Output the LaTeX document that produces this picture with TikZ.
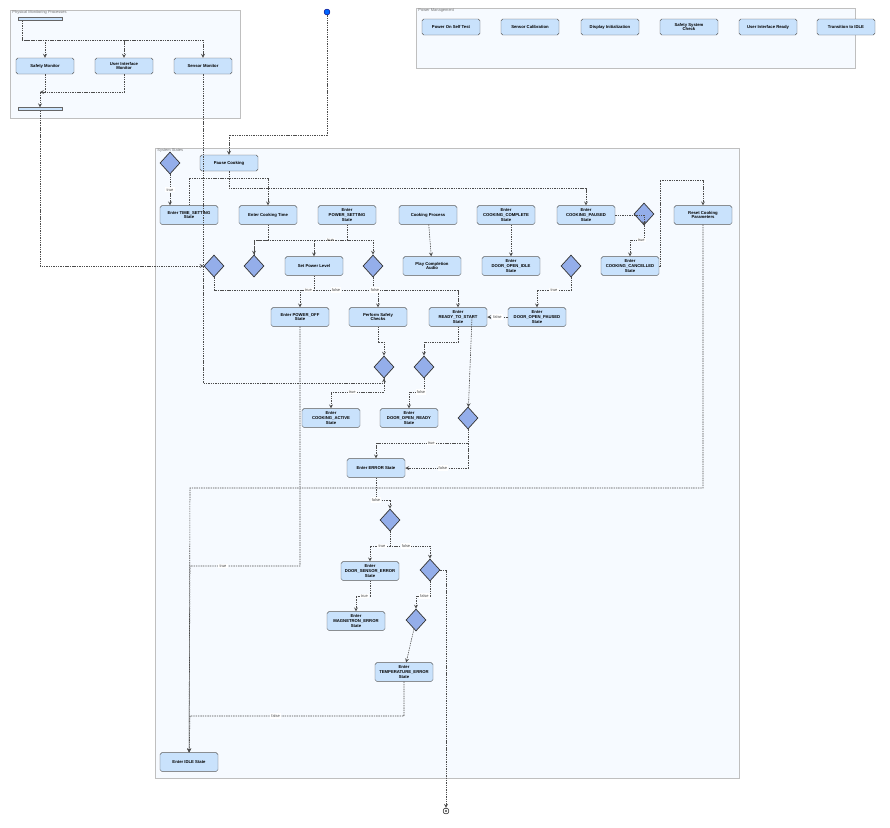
\documentclass[tikz,border=0pt]{standalone}
\usepackage{fontspec}
\setmainfont{Liberation Sans}
\usetikzlibrary{shapes}
\usetikzlibrary{positioning}
\definecolor{actfill}{HTML}{C9E2FC}
\definecolor{decfill}{HTML}{94AEEA}
\definecolor{grpfill}{HTML}{F6FAFF}
\begin{document}
\begin{tikzpicture}[
    x=0.03cm, y=-0.03cm,
    font=\fontsize{3.6}{4.2}\selectfont\bfseries
]
\tikzset{
    act/.style = {rectangle, rounded corners=1.5pt, draw=black!65, fill=actfill, align=center,
                  minimum width=1.74cm, minimum height=0.56cm, inner sep=1pt, line width=0.4pt},
    pact/.style = {act, minimum height=0.48cm},
    dec/.style = {diamond, draw=black!80, fill=decfill, minimum width=0.6cm, minimum height=0.66cm, inner sep=0pt, line width=0.6pt},
    bar/.style = {rectangle, draw=black!60, fill=actfill, minimum width=1.32cm, minimum height=2.5pt, inner sep=0pt},
    grp/.style = {draw=black!25, fill=grpfill},
    grpname/.style = {font=\fontsize{3.4}{4}\selectfont, text=black!55, anchor=north west, inner sep=1pt},
    flow/.style = {->, >=stealth, dash pattern=on 1.2pt off 0.8pt, black!70, line width=0.5pt},
    lbl/.style = {fill=white, font=\fontsize{3.4}{4}\selectfont, text=black!70, inner sep=1pt}
}
\useasboundingbox (0,0) rectangle (890,827);
% groups
\draw[grp] (10,10) rectangle (240,118);
\node[grpname] at (11,9) {Physical Monitoring Processes};
\draw[grp] (416,8) rectangle (855,68);
\node[grpname] at (417,7) {Power Management};
\draw[grp] (155,148) rectangle (739,778);
\node[grpname] at (156,147) {System States};
% monitoring
\node[bar] (fork) at (40,19) {};
\node[bar] (join) at (40,109) {};
\node[pact] (safety) at (45,66) {Safety Monitor};
\node[pact] (uimon) at (124,66) {User Interface\\Monitor};
\node[pact] (sensor) at (203,66) {Sensor Monitor};
% power management
\node[pact] (post) at (451,27) {Power On Self Test};
\node[pact] (calib) at (530,27) {Sensor Calibration};
\node[pact] (disp) at (610,27) {Display Initialization};
\node[pact] (safchk) at (689,27) {Safety System\\Check};
\node[pact] (uiready) at (768,27) {User Interface Ready};
\node[pact] (toidle) at (846,27) {Transition to IDLE};
% start / end
\node[circle, fill=blue!60!cyan, draw=blue!50!black, minimum size=5pt, inner sep=0pt] (start) at (327,12) {};
\node[circle, draw=black, fill=white, minimum size=5pt, inner sep=0pt] (stop) at (446,811) {};
\node[circle, fill=black!70, minimum size=2pt, inner sep=0pt] at (stop) {};
% states
\node[pact] (pause) at (229,163) {Pause Cooking};
\node[dec] (d1) at (170,163) {};
\node[act] (timeset) at (189,215) {Enter TIME\_SETTING\\State};
\node[act] (cooktime) at (268,215) {Enter Cooking Time};
\node[act] (powset) at (347,215) {Enter\\POWER\_SETTING\\State};
\node[act] (process) at (428,215) {Cooking Process};
\node[act] (complete) at (506,215) {Enter\\COOKING\_COMPLETE\\State};
\node[act] (paused) at (586,215) {Enter\\COOKING\_PAUSED\\State};
\node[dec] (d2) at (644,214) {};
\node[act] (reset) at (703,215) {Reset Cooking\\Parameters};
\node[dec] (d3) at (214,266) {};
\node[dec] (d4) at (254,266) {};
\node[act] (power) at (314,266) {Set Power Level};
\node[dec] (d5) at (373,266) {};
\node[act] (audio) at (432,266) {Play Completion\\Audio};
\node[act] (dooridle) at (511,266) {Enter\\DOOR\_OPEN\_IDLE\\State};
\node[dec] (d6) at (571,266) {};
\node[act] (cancel) at (630,266) {Enter\\COOKING\_CANCELLED\\State};
\node[act] (poweroff) at (300,317) {Enter POWER\_OFF\\State};
\node[act] (checks) at (378,317) {Perform Safety\\Checks};
\node[act] (ready) at (458,317) {Enter\\READY\_TO\_START\\State};
\node[act] (doorpaused) at (537,317) {Enter\\DOOR\_OPEN\_PAUSED\\State};
\node[dec] (d7) at (384,367) {};
\node[dec] (d8) at (424,367) {};
\node[act] (active) at (331,418) {Enter\\COOKING\_ACTIVE\\State};
\node[act] (doorready) at (409,418) {Enter\\DOOR\_OPEN\_READY\\State};
\node[dec] (d9) at (468,418) {};
\node[act] (error) at (376,468) {Enter ERROR State};
\node[dec] (d10) at (390,520) {};
\node[act] (doorsens) at (370,571) {Enter\\DOOR\_SENSOR\_ERROR\\State};
\node[dec] (d11) at (430,570) {};
\node[act] (magnet) at (356,621) {Enter\\MAGNETRON\_ERROR\\State};
\node[dec] (d12) at (416,620) {};
\node[act] (temp) at (404,672) {Enter\\TEMPERATURE\_ERROR\\State};
\node[act] (idle) at (189,762) {Enter IDLE State};
% monitoring flows
\draw[flow] (fork.south -| 22,0) |- (45,40) -- (safety);
\draw[flow] (22,40) -| (uimon);
\draw[flow] (22,40) -| (sensor);
\draw[flow] (safety) |- (40,92) -- (join.north -| 40,0);
\draw[flow] (uimon) |- (40,92);
\draw[flow] (join.south -| 40,0) |- (d3);
\draw[flow] (sensor) |- (203,383) -| (d7);
% main flows
\draw[flow] (start) |- (229,135) -- (pause);
\draw[flow] (d1) -- node[lbl, pos=0.5] {true} (d1 |- timeset.north);
\draw[flow] (pause) |- (586,188) -- (paused);
\draw[flow] (timeset) |- (268,178) -- (cooktime);
\draw[flow] (cooktime) |- (254,240) -- (d4);
\draw[flow] (powset) |- node[lbl, pos=0.75] {true} (314,240) -- (power);
\draw[flow] (process) -- (audio);
\draw[flow] (complete.south -| 511,0) -- (dooridle);
\draw[flow] (paused) -| (d2);
\draw[flow] (d2) |- node[lbl, pos=0.6] {true} (630,240) -- (cancel);
\draw[flow] (cancel.east) -| (660,180) -| (reset);
\draw[flow] (reset) |- (190,488) -- (idle);
\draw[flow] (d3) |- node[lbl, pos=0.75] {false} (458,290) -- (ready);
\draw[flow] (power) |- node[lbl, pos=0.7] {true} (300,290) -- (poweroff);
\draw[flow] (d5) |- node[lbl, pos=0.7] {false} (378,290) -- (checks);
\draw[flow] (d6) |- node[lbl, pos=0.75] {true} (537,290) -- (doorpaused);
\draw[flow] (doorpaused) -- node[lbl] {false} (ready);
\draw[flow] (d4) |- (373,240) -- (d5);
\draw[flow] (checks) |- (384,342) -- (d7);
\draw[flow] (ready) |- (424,342) -- (d8);
\draw[flow] (d7) |- node[lbl, pos=0.8] {true} (331,392) -- (active);
\draw[flow] (d8) |- node[lbl, pos=0.6] {false} (409,392) -- (doorready);
\draw[flow] (checks.east -| 472,0) -- (d9);
\draw[flow] (d9) |- node[lbl, pos=0.7] {true} (376,443) -- (error);
\draw[flow] (d9) |- node[lbl, pos=0.7] {false} (error.east);
\draw[flow] (error) |- node[lbl, pos=0.5] {false} (390,500) -- (d10);
\draw[flow] (d10) |- node[lbl, pos=0.7] {true} (370,546) -- (doorsens);
\draw[flow] (d10) |- node[lbl, pos=0.7] {false} (430,546) -- (d11);
\draw[flow] (doorsens) |- node[lbl, pos=0.7] {true} (356,596) -- (magnet);
\draw[flow] (d11) |- node[lbl, pos=0.7] {false} (416,596) -- (d12);
\draw[flow] (d12) -- (temp);
\draw[flow] (temp) |- node[lbl, pos=0.8] {false} (190,716) -- (idle);
\draw[flow] (poweroff) |- node[lbl, pos=0.85] {true} (190,566) -- (idle);
\draw[flow] (d11) -| (446,700) -- (stop);
\end{tikzpicture}
\end{document}
